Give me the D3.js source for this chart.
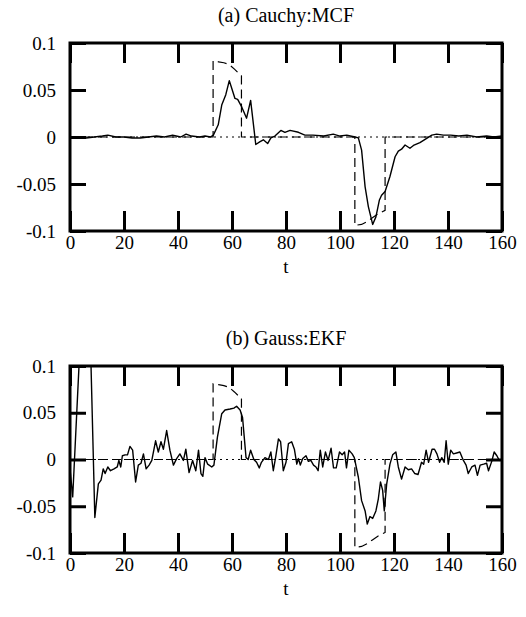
<!DOCTYPE html>
<html>
<head>
<meta charset="utf-8">
<script src="https://cdn.jsdelivr.net/npm/d3@7"></script>
<style>
  body { margin: 0; background: #fff; }
  svg text { font-family: "Liberation Serif", "Times New Roman", serif; fill: #000; }
</style>
</head>
<body>
<div id="chart"></div>
<script>
'use strict';

var xTicks = [0, 20, 40, 60, 80, 100, 120, 140, 160];
var yTicks = [0.1, 0.05, 0, -0.05, -0.1];
var yLabels = ['0.1', '0.05', '0', '-0.05', '-0.1'];

// true signal (dashed)
var trueT = [0, 53, 53, 55, 57, 59, 61, 63.5, 63.5, 105.5, 105.5, 108, 110, 112, 114, 116.7, 116.7, 160];
var trueY = [0, 0, 0.081, 0.080, 0.079, 0.077, 0.072, 0.065, 0, 0, -0.094, -0.093, -0.090, -0.086, -0.082, -0.078, 0, 0];

// (a) Cauchy:MCF estimate
var cauchyT = [0, 3, 6, 9, 12, 14, 17, 20, 23, 26, 29, 32, 35, 38, 41, 43, 45, 48, 50, 52,
  53.1, 54.9, 56.2, 57.7, 59.0, 60.1, 61.1, 62.1, 63.6, 65.4, 66.9, 68.8, 70.4, 71.6, 73.2, 74.4, 75.9,
  78.1, 79.6, 81.5, 84.6, 87, 90, 94, 97.5, 100, 102.5, 105.6, 106.8,
  108, 109.3, 110.5, 112.1, 113.3, 114.6, 115.4, 116.7, 118.5, 120.4, 121.6, 122.8, 124.1, 125.9,
  127.2, 129.6, 132.1, 134, 135.8, 138.3, 141, 144, 147, 150.6, 154.3, 157, 160];
var cauchyY = [0, 0, -0.001, 0, 0.001, 0.002, 0, 0, -0.001, -0.001, 0, 0.001, 0, 0.002, 0, 0.003, 0.001, 0, 0.001, 0,
  0.002, 0.013, 0.034, 0.045, 0.060, 0.050, 0.041, 0.040, 0.032, 0.020, 0.039, -0.008, -0.005, -0.003, -0.007, -0.001, 0.001,
  0.007, 0.005, 0.007, 0.005, 0.002, 0.002, 0.001, 0.003, 0.001, 0.002, 0, -0.001,
  -0.014, -0.053, -0.074, -0.093, -0.085, -0.067, -0.062, -0.058, -0.042, -0.021, -0.015, -0.013, -0.0085, -0.012,
  -0.009, -0.006, -0.0015, 0.002, 0.003, 0.002, 0.002, 0.001, 0.002, 0, 0.001, 0, 0.001];

// (b) Gauss:EKF estimate
var gaussT = [0, 1, 4, 7, 9.2, 10.5, 11.5, 12.3, 13, 14, 15, 16.3, 17.5, 18.1, 18.8, 19.4, 20.4, 21.3, 22.2, 23.2,
  24.3, 25.3, 26.3, 27.2, 28.2, 29.3, 30.3, 31.7, 32.7, 33.7, 34.6, 35.8, 37, 38.3, 39.5, 40.7, 42, 42.9,
  44.1, 45.4, 46.6, 47.6, 48.5, 49.2, 50, 51, 52.5, 53.3, 54.6, 56.2, 57.4, 59.3, 60.7, 61.7, 63, 63.9,
  65.2, 66, 66.9, 68.1, 69.1, 70.1, 70.9, 72.2, 73.5, 74.4, 75.3, 76.2, 77.2, 78, 79, 80, 80.9, 82.1,
  83.1, 84, 84.6, 85.3, 86.2, 87.4, 88.3, 89.2, 90.2, 91.1, 91.9, 92.7, 93.6, 94.6, 95.6, 96.7, 97.6,
  98.6, 99.8, 100.8, 101.7, 102.4, 103.3, 104.5, 105.3, 106.8, 108, 109.3, 110.1, 111.1, 112.1, 113.3,
  114.2, 115, 115.8, 116.4, 117.3, 118.5, 119.5, 120.7, 121.6, 122.8, 124.1, 125.3, 126.5, 127.7, 128.9,
  130.2, 131, 131.9, 132.8, 134.1, 135, 135.9, 136.9, 137.7, 138.6, 139.3, 140.1, 141, 142, 143.2, 144.4,
  145.7, 146.7, 147.5, 148.8, 150, 150.9, 151.9, 153.2, 154.3, 155, 156.2, 157.1, 158.1, 159, 160];
var gaussY = [-0.010, -0.040, 0.140, 0.190, -0.062, -0.026, -0.022, -0.010, -0.015, -0.008, -0.012, -0.010, -0.008, -0.001, -0.008, 0.004, 0.005, 0.005, 0.014, 0.010,
  -0.024, -0.006, -0.004, 0.006, -0.010, -0.006, -0.001, 0.020, 0.008, 0.019, 0.011, 0.031, 0.010, -0.006, 0.001, 0.006, -0.001, 0.011,
  -0.014, -0.001, -0.012, 0.010, -0.015, -0.018, 0.002, -0.005, -0.008, -0.006, 0.024, 0.049, 0.053, 0.054, 0.055, 0.057, 0.053, 0.045,
  0.002, 0, 0.010, 0, -0.003, -0.009, -0.003, 0.002, 0, 0.008, -0.012, 0.003, 0.022, 0.019, -0.012, -0.003, 0.017, 0.019,
  0.011, -0.005, 0.001, -0.006, 0.001, 0.004, -0.002, -0.001, -0.006, -0.008, -0.012, 0.010, -0.008, 0.008, -0.001, 0.012, -0.009,
  -0.009, 0.008, 0.005, 0.008, -0.009, 0.010, 0.006, 0.002, -0.019, -0.044, -0.055, -0.069, -0.061, -0.063, -0.055,
  -0.042, -0.024, -0.033, -0.055, -0.026, -0.005, 0.005, 0.008, -0.008, -0.021, -0.008, -0.011, -0.010, -0.015, -0.016,
  -0.003, -0.005, 0.010, -0.003, 0.011, 0.011, 0.006, -0.003, 0.002, -0.003, 0.020, -0.005, 0.010, 0.006, 0.007, 0.008,
  -0.001, -0.006, -0.015, -0.008, -0.006, -0.017, -0.006, -0.005, -0.004, -0.012, -0.002, 0.008, 0.004, -0.001, 0];

var W = 526, H = 617;
var svg = d3.select('#chart').append('svg')
  .attr('width', W)
  .attr('height', H);

function zip(ts, ys) {
  return ts.map(function(t, i) { return { t: t, y: ys[i] }; });
}

function panel(id, title, top, bottom, est) {
  var left = 70, right = 502;
  var x = d3.scaleLinear().domain([0, 160]).range([left, right]);
  var y = d3.scaleLinear().domain([-0.1, 0.1]).range([bottom, top]);
  var g = svg.append('g');

  g.append('clipPath').attr('id', id)
    .append('rect')
    .attr('x', left).attr('y', top)
    .attr('width', right - left).attr('height', bottom - top);

  var line = d3.line()
    .x(function(d) { return x(d.t); })
    .y(function(d) { return y(d.y); });

  var lines = g.append('g').attr('clip-path', 'url(#' + id + ')');

  // zero axis, dotted
  lines.append('line')
    .attr('x1', x(0)).attr('x2', x(160))
    .attr('y1', y(0)).attr('y2', y(0))
    .attr('stroke', '#000').attr('stroke-width', 1)
    .attr('stroke-dasharray', '2,4');

  lines.append('path')
    .datum(zip(trueT, trueY))
    .attr('d', line)
    .attr('fill', 'none').attr('stroke', '#000')
    .attr('stroke-width', 1.2)
    .attr('stroke-dasharray', '9,5');

  lines.append('path')
    .datum(est)
    .attr('d', line)
    .attr('fill', 'none').attr('stroke', '#000')
    .attr('stroke-width', 1.4)
    .attr('stroke-linejoin', 'round');

  // inward ticks on all four sides
  var bottomAxis = d3.axisBottom(x).tickValues(xTicks).tickSizeInner(-20).tickSizeOuter(0).tickPadding(5);
  var topAxis = d3.axisTop(x).tickValues(xTicks).tickSizeInner(-20).tickSizeOuter(0).tickFormat('');
  var leftAxis = d3.axisLeft(y).tickValues(yTicks).tickSizeInner(-16).tickSizeOuter(0).tickPadding(14)
    .tickFormat(function(d, i) { return yLabels[i]; });
  var rightAxis = d3.axisRight(y).tickValues(yTicks).tickSizeInner(-16).tickSizeOuter(0).tickFormat('');

  var axes = [
    [bottomAxis, 'translate(0,' + bottom + ')'],
    [topAxis, 'translate(0,' + top + ')'],
    [leftAxis, 'translate(' + left + ',0)'],
    [rightAxis, 'translate(' + right + ',0)']
  ];
  axes.forEach(function(a) {
    var ag = g.append('g').attr('transform', a[1]).call(a[0]);
    ag.select('.domain').remove();
    ag.selectAll('line').attr('stroke', '#000').attr('stroke-width', 3);
    ag.selectAll('text')
      .style('font-family', '"Liberation Serif", "Times New Roman", serif')
      .style('font-size', '19px');
  });

  g.append('rect')
    .attr('x', left).attr('y', top)
    .attr('width', right - left).attr('height', bottom - top)
    .attr('fill', 'none').attr('stroke', '#000').attr('stroke-width', 3);

  g.append('text')
    .attr('x', (left + right) / 2).attr('y', top - 21)
    .attr('text-anchor', 'middle')
    .style('font-size', '20px')
    .text(title);

  g.append('text')
    .attr('x', (left + right) / 2).attr('y', bottom + 42)
    .attr('text-anchor', 'middle')
    .style('font-size', '19px')
    .text('t');
}

panel('clipA', '(a) Cauchy:MCF', 43, 231, zip(cauchyT, cauchyY));
panel('clipB', '(b) Gauss:EKF', 366, 553, zip(gaussT, gaussY));
</script>
</body>
</html>
